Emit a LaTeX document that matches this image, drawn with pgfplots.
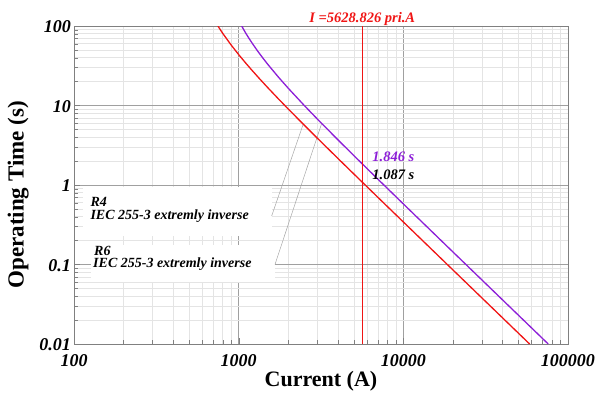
\documentclass[border=0pt]{standalone}
\usepackage{pgfplots}
\pgfplotsset{compat=1.18}
\usepackage{fontspec}
\setmainfont{Liberation Serif}
\definecolor{cred}{RGB}{240,20,20}
\definecolor{cpurple}{RGB}{140,30,215}
\definecolor{majgrid}{RGB}{160,160,160}
\definecolor{mingrid}{RGB}{228,228,228}
\definecolor{axgray}{RGB}{128,128,128}
\begin{document}
\begin{tikzpicture}
\path[use as bounding box] (-74pt,-48pt) rectangle (524pt,344pt);
\begin{axis}[
  at={(0,0)}, anchor=south west,
  scale only axis, width=494pt, height=318pt,
  xmode=log, ymode=log,
  xmin=100, xmax=100000, ymin=0.01, ymax=100,
  xtick={100,1000,10000,100000},
  xticklabels={100,1000,10000,100000},
  ytick={0.01,0.1,1,10,100},
  yticklabels={0.01,0.1,1,10,100},
  grid=both,
  major grid style={majgrid, line width=0.7pt},
  minor grid style={mingrid, line width=0.5pt},
  axis line style={axgray, line width=0.8pt},
  tick style={axgray},
  tick align=inside,
  major tick length=6pt, minor tick length=4pt,
  tick pos=left,
  /pgf/number format/assume math mode=true,
  every tick label/.append style={font=\fontsize{18}{20}\selectfont\bfseries\itshape, inner sep=0pt},
  yticklabel style={anchor=base east, xshift=-3pt, yshift=-6.5pt},
  xticklabel style={anchor=base, yshift=-22.7pt},
  every axis y label/.style={at={(axis description cs:-0.113,0.469)}, anchor=center, rotate=90},
  every axis x label/.style={at={(axis description cs:0.5,-0.134)}, anchor=base},
  ylabel={\fontsize{23}{26}\selectfont Operating Time (s)},
  xlabel={\fontsize{22}{26}\selectfont Current (A)},
  label style={font=\bfseries},
  clip mode=individual,
]
% white annotation boxes
\fill[white] (axis cs:114,0.944) rectangle (axis cs:1587,0.228);
\fill[white] (axis cs:127,0.176) rectangle (axis cs:1662,0.0602);
% leader lines
\addplot[gray!70, line width=0.5pt] coordinates {(1586,0.407) (2466,5.83)};
\addplot[gray!70, line width=0.5pt] coordinates {(1662,0.1) (3192,5.946)};
% R6 curve (purple)
\addplot[cpurple, line width=1.3pt] coordinates {
(1043,99.9) (1100,82.4) (1150,71.0) (1200,62.0) (1300,48.85) (1400,39.74) (1500,33.1) (1750,22.56) (2000,16.50) (2500,10.03) (3000,6.779) (4000,3.715) (5000,2.350) (5628.826,1.846) (7000,1.187) (10000,0.5784) (20000,0.1440) (30000,0.06397) (40000,0.03597) (50000,0.02302) (60000,0.01599) (75858,0.01)};
% R4 curve (red)
\addplot[cred, line width=1.3pt] coordinates {
(748,100.0) (800,80.9) (900,57.7) (1000,43.7) (1100,34.46) (1200,27.98) (1350,21.31) (1500,16.83) (1750,12.02) (2000,9.04) (2500,5.67) (3000,3.894) (4000,2.167) (5000,1.380) (5628.826,1.087) (7000,0.701) (10000,0.3428) (20000,0.08555) (30000,0.0380) (40000,0.02138) (50000,0.01368) (58480,0.01)};
% vertical current line
\addplot[cred, line width=1pt] coordinates {(5628.826,0.01) (5628.826,100)};
\node[anchor=base, text=cred, font=\fontsize{14.5}{16}\selectfont\bfseries\itshape, inner sep=0pt, yshift=4pt] at (axis cs:5628.826,100) {I =5628.826 pri.A};
\node[anchor=west, text=cpurple, font=\fontsize{14.5}{16}\selectfont\bfseries\itshape, inner sep=0pt, xshift=10pt, yshift=7pt] at (axis cs:5628.826,1.846) {1.846 s};
\node[anchor=west, text=black, font=\fontsize{14.5}{16}\selectfont\bfseries\itshape, inner sep=0pt, xshift=10pt, yshift=7pt] at (axis cs:5628.826,1.087) {1.087 s};
% legend texts
\node[anchor=west, font=\fontsize{14}{16}\selectfont\bfseries\itshape, inner sep=0pt] at (axis cs:125.6,0.616) {R4};
\node[anchor=west, font=\fontsize{14}{16}\selectfont\bfseries\itshape, inner sep=0pt] at (axis cs:125.6,0.407) {IEC 255-3 extremly inverse};
\node[anchor=west, font=\fontsize{14}{16}\selectfont\bfseries\itshape, inner sep=0pt] at (axis cs:132.2,0.149) {R6};
\node[anchor=west, font=\fontsize{14}{16}\selectfont\bfseries\itshape, inner sep=0pt] at (axis cs:130.5,0.1) {IEC 255-3 extremly inverse};
\end{axis}
\end{tikzpicture}
\end{document}
